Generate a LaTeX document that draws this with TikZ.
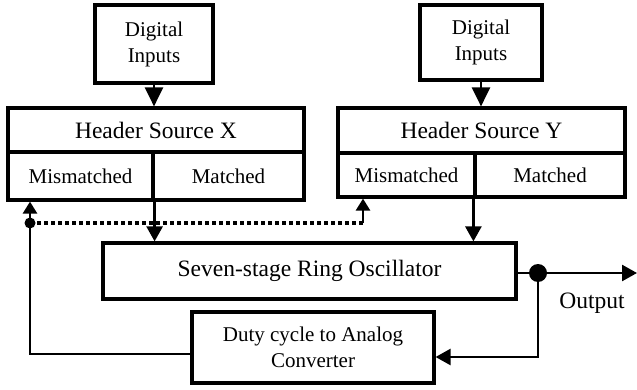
\documentclass[tikz,border=0pt]{standalone}
\usepackage{fontspec}
\setmainfont{Liberation Serif}
\usetikzlibrary{arrows.meta}
\begin{document}
\begin{tikzpicture}[x=1pt,y=-1pt,
  box/.style={draw, line width=3.2pt, inner sep=0pt, align=center},
  big/.style={font=\fontsize{23.5}{26}\selectfont},
  small/.style={font=\fontsize{21}{26}\selectfont},
  conn/.style={line width=2.6pt, -{Triangle[length=15pt,width=16pt]}},
  bigconn/.style={line width=2.6pt, -{Triangle[length=19pt,width=18pt]}},
  smallconn/.style={line width=2.6pt, -{Triangle[length=12pt,width=14pt]}},
  wire/.style={line width=2.6pt},
  dotline/.style={line width=3.4pt, dash pattern=on 4pt off 3pt}]
\useasboundingbox (0,0) rectangle (637,390);
% Digital inputs
\node[box, small, minimum width=118pt, minimum height=78pt] (dx) at (154,44) {Digital\\Inputs};
\node[box, small, minimum width=122pt, minimum height=75pt] (dy) at (481,42.5) {Digital\\Inputs};
% Header X
\node[box, big, minimum width=296pt, minimum height=44pt] (hx) at (156,130) {Header Source X};
\node[box, small, minimum width=145pt, minimum height=48pt] (hxmm) at (80.5,176) {Mismatched};
\node[box, small, minimum width=151pt, minimum height=48pt] (hxm) at (228.5,176) {Matched};
% Header Y
\node[box, big, minimum width=287pt, minimum height=45pt] (hy) at (481.5,130.5) {Header Source Y};
\node[box, small, minimum width=137pt, minimum height=44pt] (hymm) at (406.5,175) {Mismatched};
\node[box, small, minimum width=150pt, minimum height=44pt] (hym) at (550,175) {Matched};
% Ring oscillator
\node[box, big, minimum width=413pt, minimum height=56pt] (ring) at (309.5,271) {Seven-stage Ring Oscillator};
% Duty converter
\node[box, small, minimum width=242pt, minimum height=71pt] (duty) at (313,347.5) {Duty cycle to Analog\\Converter};
% Output label
\node[big, inner sep=0pt] (out) at (592,303) {Output};
% coordinates
\coordinate (ldot) at (30,223);
\coordinate (rdot) at (363,223);
\coordinate (odot) at (538,273);
\coordinate (lbot) at (30,354);
\coordinate (obot) at (538,357);
\coordinate (oend) at (637,273);
% connectors
\draw[bigconn] (dx.south) -- (dx.south |- hx.north);
\draw[bigconn] (dy.south) -- (dy.south |- hy.north);
\draw[conn] (hxmm.south east) -- (hxmm.south east |- ring.north);
\draw[conn] (hym.south west) -- (hym.south west |- ring.north);
\draw[dotline] (ldot) -- (rdot);
\draw[smallconn] (rdot) -- (rdot |- hymm.south);
\draw[smallconn] (ldot) -- (ldot |- hxmm.south);
\draw[wire] (duty.west |- lbot) -- (lbot) -- (ldot);
\fill (ldot) circle (5.5pt);
\draw[wire] (ring.east |- odot) -- (odot);
\draw[conn] (odot) -- (oend);
\draw[conn] (odot) -- (obot) -- (duty.east |- obot);
\fill (odot) circle (9pt);
\end{tikzpicture}
\end{document}
